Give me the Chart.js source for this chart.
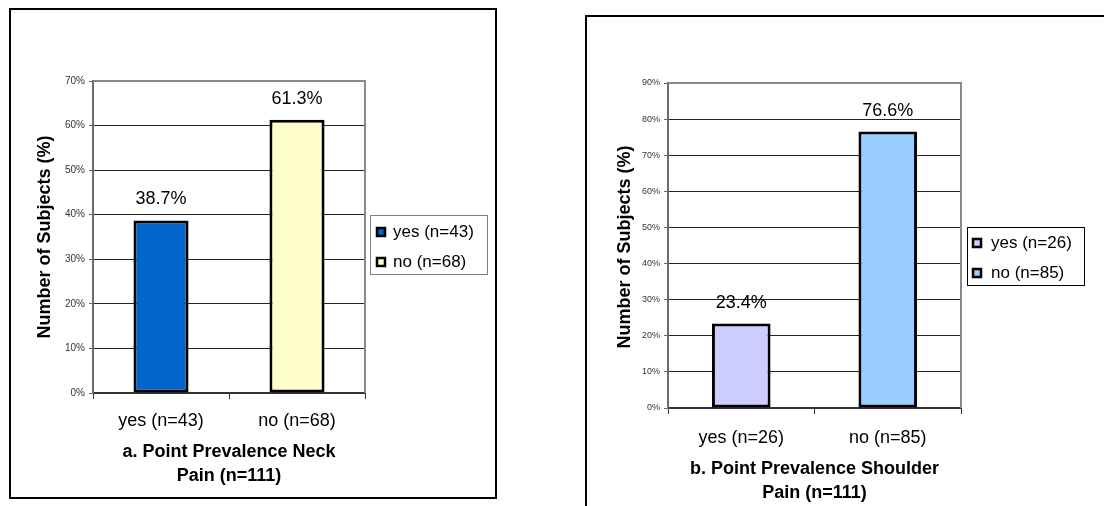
<!DOCTYPE html>
<html><head><meta charset="utf-8">
<script src="https://cdn.jsdelivr.net/npm/chart.js@4.4.1/dist/chart.umd.min.js"></script>
<style>
html,body{margin:0;padding:0;background:#fff;width:1104px;height:506px;overflow:hidden;position:relative;}
.frame{position:absolute;border:2px solid #000;box-sizing:border-box;}
canvas{position:absolute;top:0;}
</style></head><body>
<div class="frame" style="left:9px;top:8px;width:488px;height:491px;"></div>
<div class="frame" style="left:585px;top:15px;width:600px;height:600px;"></div>
<canvas id="a" width="540" height="506" style="left:0px"></canvas>
<canvas id="b" width="564" height="506" style="left:540px"></canvas>
<script>
// ---- data ----
const neckCategories = ['yes (n=43)', 'no (n=68)'];
const neckValues = [38.7, 61.3];
const neckColors = ['#0066CC', '#FFFFCC'];
const neckTitle = ['a. Point Prevalence Neck', 'Pain (n=111)'];
const neckMax = 70;

const shoulderCategories = ['yes (n=26)', 'no (n=85)'];
const shoulderValues = [23.4, 76.6];
const shoulderColors = ['#CCCCFF', '#99CCFF'];
const shoulderTitle = ['b. Point Prevalence Shoulder', 'Pain (n=111)'];
const shoulderMax = 90;

const tickStep = 10;
const yAxisTitle = 'Number of Subjects (%)';
const FONT = '"Liberation Sans", Arial, Helvetica, sans-serif';

function makeChart(id, cats, vals, colors, titleLines, ymax, L) {
  const panel = {
    id: 'panel_' + id,
    afterDraw(chart) {
      const ctx = chart.ctx;
      const a = chart.chartArea;
      ctx.save();
      // plot area border top/right
      ctx.strokeStyle = '#8a8a8a';
      ctx.lineWidth = 2;
      ctx.beginPath();
      ctx.moveTo(a.left, a.top);
      ctx.lineTo(a.right, a.top);
      ctx.lineTo(a.right, a.bottom);
      ctx.stroke();
      // value labels
      ctx.fillStyle = '#000';
      ctx.font = '18px ' + FONT;
      ctx.textAlign = 'center';
      ctx.textBaseline = 'middle';
      const meta = chart.getDatasetMeta(0);
      meta.data.forEach((bar, i) => {
        ctx.fillText(vals[i].toFixed(1) + '%', bar.x, bar.y - L.labelOffset);
      });
      // y axis title
      ctx.font = 'bold 18px ' + FONT;
      ctx.save();
      ctx.translate(L.yTitleX, L.yTitleY);
      ctx.rotate(-Math.PI / 2);
      ctx.fillText(yAxisTitle, 0, 0);
      ctx.restore();
      // x axis title
      const cx = (a.left + a.right) / 2;
      titleLines.forEach((t, i) => ctx.fillText(t, cx, L.titleYs[i]));
      // legend
      const g = L.legend;
      ctx.strokeStyle = g.border;
      ctx.lineWidth = 1;
      ctx.strokeRect(g.x1 + 0.5, g.y1 + 0.5, g.x2 - g.x1, g.y2 - g.y1);
      ctx.font = '17px ' + FONT;
      ctx.textAlign = 'left';
      cats.forEach((c, i) => {
        const y = g.rows[i];
        ctx.fillStyle = colors[i];
        ctx.fillRect(g.swX, y - 4, 8, 8);
        ctx.strokeStyle = '#000';
        ctx.lineWidth = 2.5;
        ctx.strokeRect(g.swX, y - 4, 8, 8);
        ctx.fillStyle = '#000';
        ctx.fillText(c, g.textX, y);
      });
      ctx.restore();
    }
  };
  return new Chart(document.getElementById(id), {
    type: 'bar',
    data: {
      labels: cats,
      datasets: [{
        data: vals,
        backgroundColor: colors,
        borderColor: '#000',
        borderWidth: 3,
        borderSkipped: false,
        barPercentage: L.barPct,
        categoryPercentage: 1
      }]
    },
    options: {
      responsive: false,
      animation: false,
      devicePixelRatio: 1,
      layout: { padding: { left: 0, top: L.top, right: L.W - L.right, bottom: 0 } },
      plugins: { legend: { display: false }, tooltip: { enabled: false } },
      scales: {
        x: {
          afterFit(s) { s.height = L.H - L.bottom; },
          grid: { offset: true, drawOnChartArea: false, drawTicks: true, tickLength: 6, color: '#333', lineWidth: 1 },
          border: { color: '#333', width: 2 },
          ticks: { color: '#000', font: { family: FONT, size: 18 }, padding: L.xPad, maxRotation: 0 }
        },
        y: {
          min: 0, max: ymax,
          afterFit(s) { s.width = L.left; },
          grid: { color: '#222', lineWidth: 1, tickLength: 4, tickColor: '#666' },
          border: { color: '#6a6a6a', width: 2 },
          ticks: { stepSize: tickStep, color: '#333', font: { family: FONT, size: L.yTickSize }, padding: 4,
                   callback: v => v + '%' }
        }
      }
    },
    plugins: [panel]
  });
}

makeChart('a', neckCategories, neckValues, neckColors, neckTitle, neckMax, {
  W: 540, H: 506, left: 93, right: 365, top: 81, bottom: 393,
  barPct: 0.405, xPad: 11, yTickSize: 10, labelOffset: 21,
  yTitleX: 45, yTitleY: 237, titleYs: [452, 476],
  legend: { x1: 370, y1: 215, x2: 487, y2: 274, swX: 377, textX: 393, rows: [232, 262], border: '#808080' }
});

makeChart('b', shoulderCategories, shoulderValues, shoulderColors, shoulderTitle, shoulderMax, {
  W: 564, H: 506, left: 128, right: 421, top: 83, bottom: 408,
  barPct: 0.40, xPad: 13, yTickSize: 9, labelOffset: 20,
  yTitleX: 85, yTitleY: 247, titleYs: [469, 493],
  legend: { x1: 427, y1: 227, x2: 544, y2: 285, swX: 433, textX: 451, rows: [243, 273], border: '#000' }
});
</script>
</body></html>
